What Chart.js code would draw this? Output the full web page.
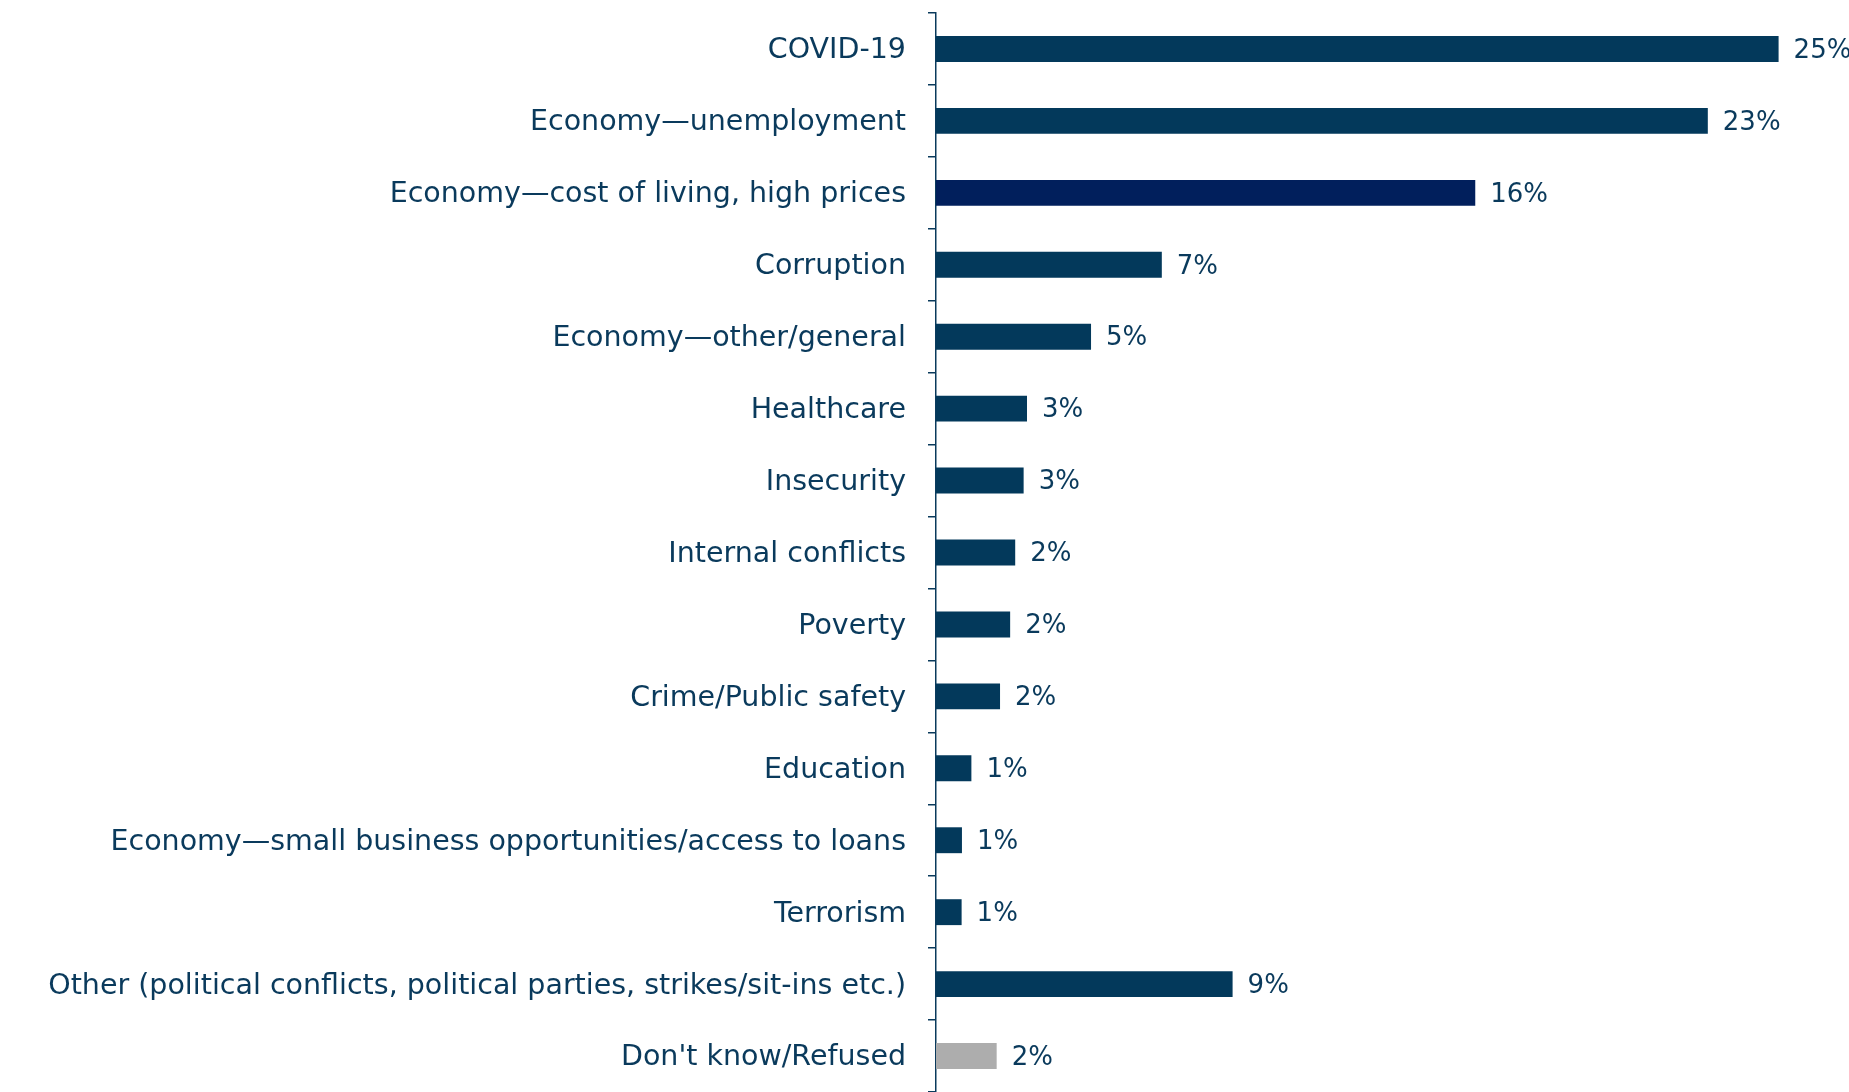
<!DOCTYPE html>
<html>
<head>
<meta charset="utf-8">
<script src="https://cdn.jsdelivr.net/npm/chart.js@4.4.1/dist/chart.umd.min.js"></script>
<style>
  html, body { margin: 0; padding: 0; background: #fff; }
  canvas { display: block; }
</style>
</head>
<body>
<canvas id="issuesChart" width="1849" height="1092"></canvas>
<script>
// Most important problem facing the country (% of respondents)
const categories = [
  'COVID-19',
  'Economy\u2014unemployment',
  'Economy\u2014cost of living, high prices',
  'Corruption',
  'Economy\u2014other/general',
  'Healthcare',
  'Insecurity',
  'Internal conflicts',
  'Poverty',
  'Crime/Public safety',
  'Education',
  'Economy\u2014small business opportunities/access to loans',
  'Terrorism',
  'Other (political conflicts, political parties, strikes/sit-ins etc.)',
  "Don't know/Refused"
];
const shares = [25.0, 22.9, 16.0, 6.7, 4.6, 2.7, 2.6, 2.35, 2.2, 1.9, 1.05, 0.77, 0.76, 8.8, 1.8];
const shareLabels = ['25%', '23%', '16%', '7%', '5%', '3%', '3%', '2%', '2%', '2%', '1%', '1%', '1%', '9%', '2%'];
const barColors = [
  '#03395b', '#03395b', '#011f5c', '#03395b', '#03395b', '#03395b', '#03395b', '#03395b',
  '#03395b', '#03395b', '#03395b', '#03395b', '#03395b', '#03395b', '#adadad'
];

const navy = '#0a3a5c';
const fontFamily = 'Tahoma, "DejaVu Sans", sans-serif';

// etiquettes de valeur au bout des barres
const valueLabels = {
  id: 'valueLabels',
  afterDatasetsDraw(chart) {
    const ctx = chart.ctx;
    const meta = chart.getDatasetMeta(0);
    ctx.save();
    ctx.font = '26px ' + fontFamily;
    ctx.fillStyle = navy;
    ctx.textAlign = 'left';
    ctx.textBaseline = 'middle';
    meta.data.forEach((bar, i) => {
      ctx.fillText(shareLabels[i], bar.x + 15, bar.y + 2);
    });
    ctx.restore();
  }
};

const ctx = document.getElementById('issuesChart').getContext('2d');
const issuesChart = new Chart(ctx, {
  type: 'bar',
  data: {
    labels: categories,
    datasets: [{
      data: shares,
      backgroundColor: barColors,
      borderWidth: 0,
      categoryPercentage: 1,
      barPercentage: 0.36
    }]
  },
  options: {
    indexAxis: 'y',
    responsive: false,
    animation: false,
    layout: { padding: { top: 13, right: 3, bottom: 0, left: 0 } },
    plugins: {
      legend: { display: false },
      tooltip: { enabled: false }
    },
    scales: {
      x: {
        display: false,
        min: 0,
        max: 27
      },
      y: {
        offset: true,
        afterFit(scale) {
          scale.width = 936;
          scale.paddingTop = 0;
          scale.paddingBottom = 0;
        },
        border: { color: navy, width: 1.5 },
        grid: {
          offset: true,
          drawOnChartArea: false,
          tickLength: 8,
          color: navy,
          lineWidth: 1.5
        },
        ticks: {
          color: navy,
          padding: 22,
          labelOffset: 2,
          font: { family: fontFamily, size: 28.5 }
        }
      }
    }
  },
  plugins: [valueLabels]
});
</script>
</body>
</html>
